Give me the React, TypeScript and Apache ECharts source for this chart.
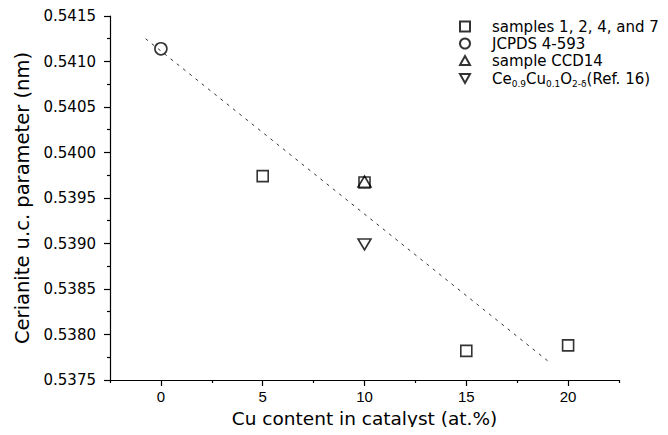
import React, { useEffect, useRef } from "react";
import * as echarts from "echarts";

const seriesNames = [
  "samples 1, 2, 4, and 7",
  "JCPDS 4-593",
  "sample CCD14",
  "Ce0.9Cu0.1O2-δ(Ref. 16)",
];

const samplesData: number[][] = [
  [5, 0.53974],
  [10, 0.53967],
  [15, 0.53782],
  [20, 0.53788],
];
const jcpdsData: number[][] = [[0, 0.54114]];
const ccd14Data: number[][] = [[10, 0.53968]];
const refData: number[][] = [[10, 0.53899]];
const fitLine: number[][] = [
  [-0.75, 0.54125],
  [19.0, 0.53771],
];

const xMajorTicks = [0, 5, 10, 15, 20];
const xMinorTicks = [-2.5, 2.5, 7.5, 12.5, 17.5, 22.5];
const yMajorTicks = [0.5375, 0.538, 0.5385, 0.539, 0.5395, 0.54, 0.5405, 0.541, 0.5415];
const yMinorTicks = [0.53775, 0.53825, 0.53875, 0.53925, 0.53975, 0.54025, 0.54075, 0.54125];

const FONT = "Liberation Sans";
const WIDE = "DejaVu Sans";

const SQUARE = "path://M0,0H10V10H0Z";
const TRI_UP = "path://M5,0L10,9L0,9Z";
const TRI_DOWN = "path://M0,0L10,0L5,9Z";

export default function App() {
  const ref = useRef<HTMLDivElement>(null);
  useEffect(() => {
    if (!ref.current) return;
    const chart = echarts.init(ref.current, undefined, { renderer: "svg" });
    const hollow = {
      color: "rgba(0,0,0,0)",
      borderColor: "#000",
      borderWidth: 1.6,
    };
    const axisCommon = {
      type: "value" as const,
      splitLine: { show: false },
    };
    chart.setOption({
      animation: false,
      backgroundColor: "#fff",
      textStyle: { fontFamily: FONT, color: "#000" },
      grid: { left: 110, right: 49, top: 16, bottom: 55 },
      legend: {
        orient: "vertical",
        left: 454,
        top: 13,
        itemWidth: 10,
        itemHeight: 10,
        itemGap: 0,
        data: seriesNames,
        textStyle: {
          fontFamily: WIDE,
          fontSize: 15,
          lineHeight: 17,
          color: "#000",
          padding: [0, 0, 0, 17],
          overflow: "none",
          rich: {
            n: { fontFamily: WIDE, fontSize: 15, lineHeight: 17, color: "#000" },
            s: { fontFamily: WIDE, fontSize: 9, lineHeight: 17, color: "#000", padding: [10, 0, 0, 0] },
          },
        },
        formatter: (name: string) => {
          if (name === seriesNames[3]) {
            return "{n|Ce}{s|0.9}{n|Cu}{s|0.1}{n|O}{s|2-δ}{n|(Ref. 16)}";
          }
          return name;
        },
      },
      xAxis: [
        {
          ...axisCommon,
          min: -2.5,
          max: 22.5,
          name: "Cu content in catalyst (at.%)",
          nameLocation: "middle",
          nameGap: 29,
          nameTextStyle: { fontFamily: WIDE, fontSize: 18.5, color: "#000" },
          axisLine: { show: true, onZero: false, lineStyle: { color: "#000", width: 1.2 } },
          axisTick: { show: true, length: 6, customValues: xMajorTicks, lineStyle: { color: "#000", width: 1.2 } },
          axisLabel: { customValues: xMajorTicks, fontFamily: FONT, fontSize: 15, color: "#000", margin: 9 },
        },
        {
          ...axisCommon,
          min: -2.5,
          max: 22.5,
          position: "bottom",
          axisLine: { show: false, onZero: false },
          axisTick: { show: true, length: 3, customValues: xMinorTicks, lineStyle: { color: "#000", width: 1.2 } },
          axisLabel: { show: false },
        },
      ],
      yAxis: [
        {
          ...axisCommon,
          min: 0.5375,
          max: 0.5415,
          name: "Cerianite u.c. parameter (nm)",
          nameLocation: "middle",
          nameGap: 74,
          nameTextStyle: { fontFamily: WIDE, fontSize: 19.5, color: "#000" },
          axisLine: { show: true, onZero: false, lineStyle: { color: "#000", width: 1.2 } },
          axisTick: { show: true, length: 6, customValues: yMajorTicks, lineStyle: { color: "#000", width: 1.2 } },
          axisLabel: {
            customValues: yMajorTicks,
            fontFamily: WIDE,
            fontSize: 15,
            color: "#000",
            margin: 14,
            formatter: (v: number) => v.toFixed(4),
          },
        },
        {
          ...axisCommon,
          min: 0.5375,
          max: 0.5415,
          position: "left",
          axisLine: { show: false, onZero: false },
          axisTick: { show: true, length: 3, customValues: yMinorTicks, lineStyle: { color: "#000", width: 1.2 } },
          axisLabel: { show: false },
        },
      ],
      series: [
        {
          name: "fit",
          type: "line",
          data: fitLine,
          symbol: "none",
          lineStyle: { color: "#333", width: 1, type: [3, 5] },
          z: 1,
        },
        {
          name: seriesNames[0],
          type: "scatter",
          data: samplesData,
          symbol: SQUARE,
          symbolSize: 11,
          itemStyle: hollow,
          z: 3,
        },
        {
          name: seriesNames[1],
          type: "scatter",
          data: jcpdsData,
          symbol: "circle",
          symbolSize: 12,
          itemStyle: hollow,
          z: 3,
        },
        {
          name: seriesNames[2],
          type: "scatter",
          data: ccd14Data,
          symbol: TRI_UP,
          symbolSize: [13, 11],
          itemStyle: hollow,
          z: 3,
        },
        {
          name: seriesNames[3],
          type: "scatter",
          data: refData,
          symbol: TRI_DOWN,
          symbolSize: [13, 11],
          itemStyle: hollow,
          z: 3,
        },
      ],
    });
    return () => chart.dispose();
  }, []);
  return <div ref={ref} style={{ width: 668, height: 435, margin: -8 }} />;
}
